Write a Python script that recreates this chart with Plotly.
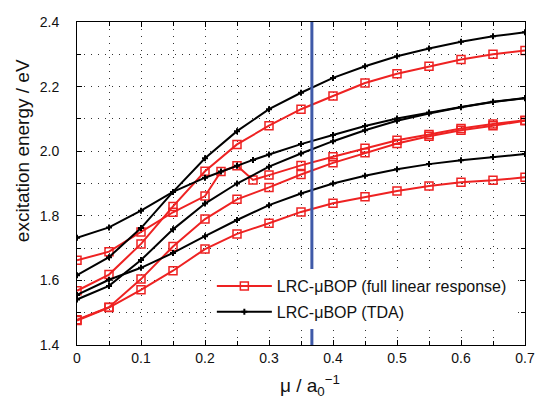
import plotly.graph_objects as go

# ---- data ----
mu = [0.0, 0.05, 0.10, 0.15, 0.20, 0.25, 0.30, 0.35, 0.40, 0.45, 0.50, 0.55, 0.60, 0.65, 0.70]
mu_dense = [0.0, 0.05, 0.10, 0.15, 0.20, 0.225, 0.25, 0.275, 0.30, 0.35, 0.40, 0.45, 0.50, 0.55, 0.60, 0.65, 0.70]

# full linear response (red)
red_1 = [1.568, 1.618, 1.713, 1.829, 1.938, 2.021, 2.079, 2.130, 2.171, 2.211, 2.240, 2.263, 2.284, 2.300, 2.312]
red_2 = [1.662, 1.689, 1.750, 1.811, 1.861, 1.937, 1.955, 1.911, 1.926, 1.956, 1.983, 2.009, 2.034, 2.052, 2.070, 2.084, 2.096]  # on mu_dense
red_3 = [1.478, 1.517, 1.604, 1.705, 1.790, 1.851, 1.888, 1.928, 1.964, 1.995, 2.024, 2.046, 2.065, 2.079, 2.094]
red_4 = [1.476, 1.516, 1.571, 1.630, 1.697, 1.744, 1.777, 1.812, 1.839, 1.859, 1.877, 1.892, 1.904, 1.910, 1.919]

# TDA (black)
black_1 = [1.616, 1.672, 1.762, 1.874, 1.978, 2.062, 2.130, 2.181, 2.227, 2.263, 2.294, 2.318, 2.339, 2.356, 2.368]
black_2 = [1.732, 1.764, 1.816, 1.874, 1.918, 1.937, 1.955, 1.973, 1.990, 2.022, 2.050, 2.078, 2.101, 2.120, 2.137, 2.153, 2.165]  # on mu_dense
black_3 = [1.541, 1.583, 1.663, 1.758, 1.838, 1.900, 1.952, 1.993, 2.031, 2.065, 2.094, 2.117, 2.136, 2.152, 2.164]
black_4 = [1.555, 1.602, 1.639, 1.685, 1.737, 1.787, 1.833, 1.869, 1.900, 1.924, 1.944, 1.960, 1.972, 1.982, 1.991]

marker_mu = 0.367
y_range = [1.4, 2.4]
x_range = [0.0, 0.7]

legend_red = "LRC-μBOP (full linear response)"
legend_black = "LRC-μBOP (TDA)"

RED = "#ee2222"
BLACK = "#000000"
BLUE = "#3f5aa8"
FONT = "Liberation Sans, Arial, Helvetica, sans-serif"

fig = go.Figure()

red_sets = [(mu, red_1), (mu_dense, red_2), (mu, red_3), (mu, red_4)]
black_sets = [(mu, black_1), (mu_dense, black_2), (mu, black_3), (mu, black_4)]

for i, (xs, ys) in enumerate(red_sets):
    fig.add_trace(go.Scatter(
        x=xs, y=ys, mode="lines+markers",
        line=dict(color=RED, width=2),
        marker=dict(symbol="square-open", size=8, color=RED, line=dict(width=1.5, color=RED)),
        name=legend_red, legendgroup="red", showlegend=(i == 0),
    ))

for i, (xs, ys) in enumerate(black_sets):
    fig.add_trace(go.Scatter(
        x=xs, y=ys, mode="lines+markers",
        line=dict(color=BLACK, width=2),
        marker=dict(symbol="cross", size=5, color=BLACK),
        name=legend_black, legendgroup="black", showlegend=(i == 0),
    ))

fig.add_trace(go.Scatter(
    x=[marker_mu, marker_mu], y=y_range, mode="lines",
    line=dict(color=BLUE, width=3), showlegend=False, hoverinfo="skip",
))

grid_kw = dict(showgrid=True, gridcolor="#333333", gridwidth=1, griddash="1px,6px")

fig.update_xaxes(
    range=x_range, dtick=0.1, tick0=0, automargin=False,
    ticks="inside", ticklen=5, tickcolor="black",
    showline=True, linecolor="black", linewidth=1, mirror="ticks",
    zeroline=False,
    tickfont=dict(family=FONT, size=14, color="#111"),
    minor=dict(dtick=0.05, ticks="inside", ticklen=4, tickcolor="black",
               showgrid=True, gridcolor="#333333", gridwidth=1, griddash="1px,6px"),
    **grid_kw,
)
fig.update_yaxes(
    range=y_range, dtick=0.2, tick0=1.4, tickformat=".1f", automargin=False,
    ticks="inside", ticklen=5, tickcolor="black",
    showline=True, linecolor="black", linewidth=1, mirror="ticks",
    zeroline=False,
    tickfont=dict(family=FONT, size=14, color="#111"),
    ticklabelstandoff=14,
    minor=dict(dtick=0.1, ticks="inside", ticklen=4, tickcolor="black",
               showgrid=True, gridcolor="#333333", gridwidth=1, griddash="1px,6px"),
    **grid_kw,
)

fig.update_layout(
    width=539, height=410,
    margin=dict(l=77, r=14, t=22, b=65),
    paper_bgcolor="white", plot_bgcolor="white",
    font=dict(family=FONT, size=14, color="#111"),
    legend=dict(
        x=0.301, y=0.235, xanchor="left", yanchor="top",
        bgcolor="white", borderwidth=0,
        font=dict(family=FONT, size=16, color="#111"),
        itemwidth=55, traceorder="grouped", tracegroupgap=2,
    ),
    annotations=[
        dict(text="excitation energy / eV", textangle=-90,
             xref="paper", yref="paper", x=-0.123, y=0.603, xanchor="center", yanchor="middle",
             showarrow=False, font=dict(family=FONT, size=19, color="#111")),
        dict(text="μ / a<sub>0</sub><sup>−1</sup>",
             xref="paper", yref="paper", x=0.52, y=-0.124, xanchor="center", yanchor="middle",
             showarrow=False, font=dict(family=FONT, size=19, color="#111")),
    ],
)

fig.write_html("out.html", config={"displayModeBar": False},
               post_script="document.body.style.margin='0px';")
